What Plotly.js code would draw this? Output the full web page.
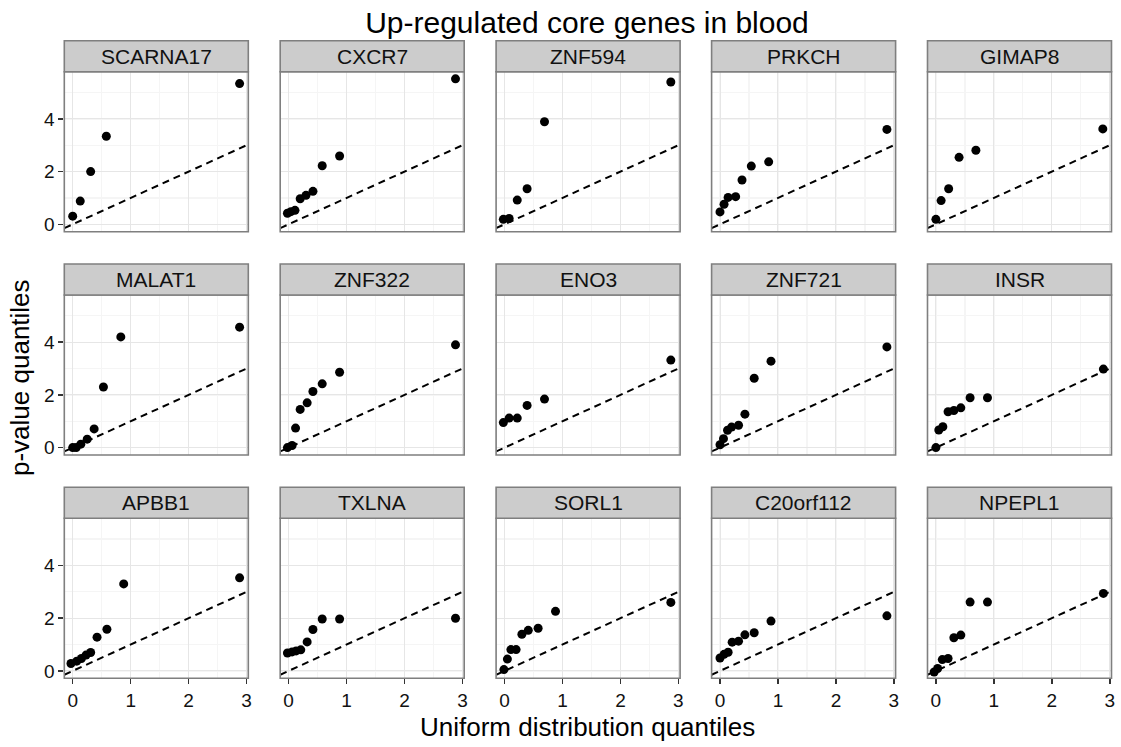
<!DOCTYPE html>
<html>
<head>
<meta charset="utf-8">
<script src="https://cdn.plot.ly/plotly-3.0.1.min.js"></script>
<style>
  html, body { margin: 0; padding: 0; background: #ffffff; }
  #chart { width: 1121px; height: 747px; }
</style>
</head>
<body>
<div id="chart"></div>
<script>
// Gene facets, in reading order (3 rows x 5 columns)
const genes = [
  "SCARNA17", "CXCR7", "ZNF594", "PRKCH", "GIMAP8",
  "MALAT1", "ZNF322", "ENO3", "ZNF721", "INSR",
  "APBB1", "TXLNA", "SORL1", "C20orf112", "NPEPL1"
];

// Expected -log10 quantiles of the uniform distribution, per gene
const uniformQ = [
  [0, 0.13, 0.31, 0.58, 2.88],
  [-0.02, 0.04, 0.11, 0.2, 0.3, 0.42, 0.58, 0.88, 2.88],
  [-0.02, 0.08, 0.22, 0.39, 0.69, 2.87],
  [0, 0.07, 0.14, 0.27, 0.38, 0.54, 0.84, 2.88],
  [0, 0.09, 0.22, 0.4, 0.69, 2.88],
  [0, 0.06, 0.14, 0.25, 0.37, 0.53, 0.83, 2.88],
  [-0.02, 0.06, 0.12, 0.2, 0.32, 0.42, 0.58, 0.88, 2.88],
  [-0.02, 0.08, 0.22, 0.39, 0.69, 2.87],
  [0, 0.06, 0.13, 0.2, 0.32, 0.43, 0.59, 0.88, 2.88],
  [0, 0.05, 0.12, 0.21, 0.31, 0.43, 0.59, 0.89, 2.89],
  [-0.03, 0.07, 0.15, 0.23, 0.31, 0.42, 0.59, 0.88, 2.88],
  [-0.02, 0.06, 0.13, 0.21, 0.32, 0.42, 0.58, 0.88, 2.88],
  [-0.01, 0.05, 0.11, 0.2, 0.3, 0.41, 0.58, 0.88, 2.87],
  [0, 0.07, 0.14, 0.21, 0.32, 0.43, 0.59, 0.88, 2.88],
  [-0.03, 0.03, 0.11, 0.21, 0.31, 0.43, 0.59, 0.89, 2.89]
];

// Observed -log10 p-value quantiles, per gene
const pvalueQ = [
  [0.31, 0.88, 2.0, 3.34, 5.34],
  [0.42, 0.48, 0.53, 0.97, 1.1, 1.25, 2.22, 2.59, 5.52],
  [0.19, 0.22, 0.92, 1.35, 3.89, 5.4],
  [0.47, 0.76, 1.02, 1.05, 1.68, 2.21, 2.37, 3.6],
  [0.19, 0.9, 1.35, 2.54, 2.81, 3.62],
  [0, 0, 0.13, 0.32, 0.71, 2.3, 4.2, 4.57],
  [0, 0.08, 0.74, 1.45, 1.7, 2.13, 2.42, 2.86, 3.9],
  [0.95, 1.12, 1.12, 1.6, 1.84, 3.32],
  [0.11, 0.34, 0.66, 0.78, 0.85, 1.27, 2.63, 3.28, 3.82],
  [0, 0.67, 0.79, 1.36, 1.41, 1.51, 1.89, 1.89, 2.98],
  [0.28, 0.37, 0.47, 0.6, 0.7, 1.28, 1.58, 3.3, 3.53],
  [0.68, 0.72, 0.76, 0.8, 1.1, 1.57, 1.97, 1.97, 2.0],
  [0.05, 0.45, 0.81, 0.81, 1.39, 1.54, 1.62, 2.26, 2.6],
  [0.49, 0.63, 0.71, 1.09, 1.13, 1.37, 1.45, 1.89, 2.09],
  [-0.04, 0.09, 0.43, 0.47, 1.26, 1.36, 2.61, 2.61, 2.94]
];

const xTicks = [0, 1, 2, 3];
const yTicks = [0, 2, 4];

// Shared axis extents for every facet
const xRange = [-0.145, 3.03];
const yRange = [-0.28, 5.79];

// Page geometry (pixels)
const W = 1121, H = 747;
const colLeft = [64.3, 280.2, 496.1, 711.6, 927.5];
const panelW = 184;
const rowTop = [71.7, 295.0, 518.3];
const panelH = 160;
const stripH = 31;

const FONT = "Liberation Sans, Arial, Helvetica, sans-serif";
const TEXT = "#111111";
const BORDER = "#7f7f7f";

const traces = [];
const layout = {
  width: W, height: H,
  margin: { l: 0, r: 0, t: 0, b: 0 },
  paper_bgcolor: "#ffffff",
  plot_bgcolor: "#ffffff",
  showlegend: false,
  font: { family: FONT, color: TEXT },
  title: {
    text: "Up-regulated core genes in blood",
    font: { family: FONT, size: 30, color: "#000000" },
    x: 587 / W, xanchor: "center", xref: "paper",
    y: 1 - 22 / H, yanchor: "middle", yref: "paper"
  },
  shapes: [],
  annotations: []
};

genes.forEach((gene, i) => {
  const r = Math.floor(i / 5), c = i % 5;
  const k = i + 1;
  const xa = "x" + (k === 1 ? "" : k);
  const ya = "y" + (k === 1 ? "" : k);
  const left = colLeft[c], top = rowTop[r];

  // Reference line y = x spanning the panel
  traces.push({
    type: "scatter", mode: "lines", xaxis: xa, yaxis: ya,
    x: xRange.slice(), y: xRange.slice(),
    line: { color: "#000000", width: 2, dash: "7px,5px" },
    hoverinfo: "skip"
  });
  // Quantile points
  traces.push({
    type: "scatter", mode: "markers", xaxis: xa, yaxis: ya,
    x: uniformQ[i], y: pvalueQ[i],
    marker: { color: "#000000", size: 9, line: { width: 0 } },
    cliponaxis: false,
    name: gene
  });

  const bottomRow = r === 2, leftCol = c === 0;
  layout["xaxis" + (k === 1 ? "" : k)] = {
    domain: [left / W, (left + panelW) / W],
    anchor: ya,
    range: xRange,
    tickvals: xTicks,
    ticktext: xTicks.map(String),
    showticklabels: bottomRow,
    ticks: bottomRow ? "outside" : "",
    ticklen: 5, tickwidth: 1.5, tickcolor: "#333333",
    tickfont: { family: FONT, size: 19, color: TEXT },
    showgrid: true, gridcolor: "#e6e6e6", gridwidth: 1,
    minor: { dtick: 0.5, tick0: 0, showgrid: true, gridcolor: "#f5f5f5", gridwidth: 1.3 },
    zeroline: false, showline: false, fixedrange: true
  };
  layout["yaxis" + (k === 1 ? "" : k)] = {
    domain: [1 - (top + panelH) / H, 1 - top / H],
    anchor: xa,
    range: yRange,
    tickvals: yTicks,
    ticktext: yTicks.map(String),
    showticklabels: leftCol,
    ticks: leftCol ? "outside" : "",
    ticklen: 5, tickwidth: 1.5, tickcolor: "#333333",
    tickfont: { family: FONT, size: 19, color: TEXT },
    showgrid: true, gridcolor: "#e6e6e6", gridwidth: 1,
    minor: { dtick: 1, tick0: 0, showgrid: true, gridcolor: "#f5f5f5", gridwidth: 1.3 },
    zeroline: false, showline: false, fixedrange: true
  };

  // Panel frame
  layout.shapes.push({
    type: "rect", xref: xa + " domain", yref: ya + " domain",
    x0: 0, x1: 1, y0: 0, y1: 1,
    line: { color: BORDER, width: 1.6 }, fillcolor: "rgba(0,0,0,0)", layer: "above"
  });
  // Facet strip
  layout.shapes.push({
    type: "rect", xref: "paper", yref: "paper",
    x0: left / W, x1: (left + panelW) / W,
    y0: 1 - top / H, y1: 1 - (top - stripH) / H,
    line: { color: BORDER, width: 1.6 }, fillcolor: "#cccccc", layer: "above"
  });
  layout.annotations.push({
    text: gene, xref: "paper", yref: "paper",
    x: (left + panelW / 2) / W, y: 1 - (top - stripH / 2) / H,
    xanchor: "center", yanchor: "middle", showarrow: false,
    font: { family: FONT, size: 21, color: TEXT }
  });
});

// Axis titles
layout.annotations.push({
  text: "Uniform distribution quantiles", xref: "paper", yref: "paper",
  x: 587 / W, y: 1 - 727 / H, xanchor: "center", yanchor: "middle",
  showarrow: false, font: { family: FONT, size: 26, color: "#000000" }
});
layout.annotations.push({
  text: "p-value quantiles", xref: "paper", yref: "paper",
  x: 20 / W, y: 1 - 378 / H, xanchor: "center", yanchor: "middle",
  textangle: -90, showarrow: false, font: { family: FONT, size: 26, color: "#000000" }
});

Plotly.newPlot("chart", traces, layout, { staticPlot: true, displayModeBar: false });
</script>
</body>
</html>
